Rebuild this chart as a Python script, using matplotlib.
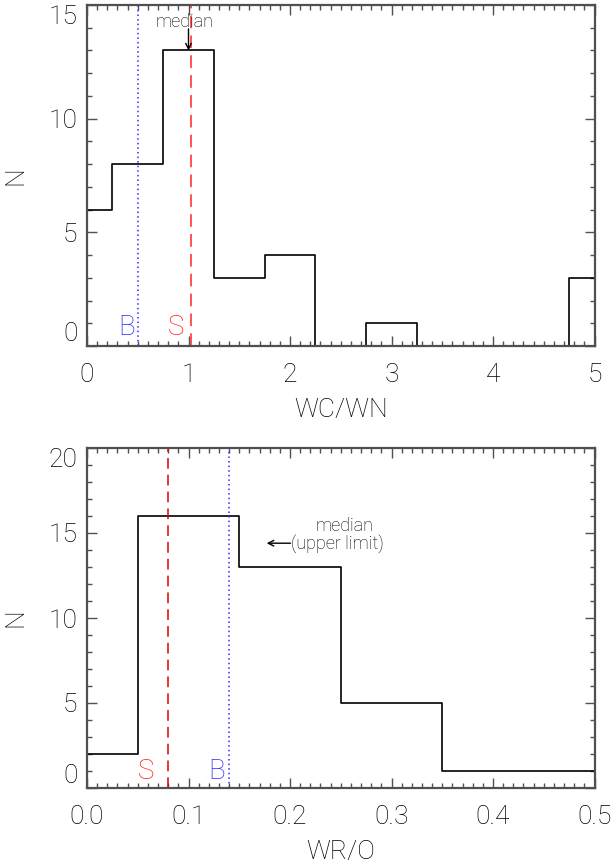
import matplotlib
matplotlib.use("Agg")
import matplotlib.pyplot as plt
from matplotlib.ticker import MultipleLocator, FormatStrFormatter

plt.rcParams['font.family'] = ['Roboto', 'DejaVu Sans']
plt.rcParams['font.weight'] = 'light'
plt.rcParams['axes.labelweight'] = 'light'
plt.rcParams['text.color'] = 'black'

# WC/WN number ratio histogram (bin centres and counts)
wcwn_centers = [0.0, 0.5, 1.0, 1.5, 2.0, 2.5, 3.0, 3.5, 4.0, 4.5, 5.0]
wcwn_counts = [6, 8, 13, 3, 4, 0, 1, 0, 0, 0, 3]
wcwn_median = 1.0
wcwn_S = 1.02
wcwn_B = 0.5

# WR/O number ratio histogram
wro_centers = [0.0, 0.1, 0.2, 0.3, 0.4, 0.5]
wro_counts = [2, 16, 13, 5, 1, 1]
wro_median = 0.177
wro_S = 0.08
wro_B = 0.14

W, H = 615, 866
fig = plt.figure(figsize=(W / 100, H / 100), dpi=100)

spine_col = '#505050'
tick_fs = 19
label_fs = 19
note_fs = 13
mark_fs = 20


def style_axes(ax, xmaj, xmin, yticks, ymin, xfmt=None):
    ax.xaxis.set_major_locator(MultipleLocator(xmaj))
    ax.xaxis.set_minor_locator(MultipleLocator(xmin))
    if xfmt:
        ax.xaxis.set_major_formatter(FormatStrFormatter(xfmt))
    ax.set_yticks(yticks)
    ax.yaxis.set_minor_locator(MultipleLocator(ymin))
    ax.tick_params(which='both', direction='in', top=True, right=True,
                   color=spine_col, width=1.0)
    ax.tick_params(which='major', length=7)
    ax.tick_params(which='minor', length=3.5)
    ax.tick_params(axis='x', which='major', pad=12, labelsize=tick_fs,
                   labelcolor='black')
    ax.tick_params(axis='y', which='major', pad=7, labelsize=tick_fs,
                   labelcolor='black')
    labs = ax.get_yticklabels()
    labs[0].set_va('bottom')
    labs[-1].set_va('top')
    for s in ax.spines.values():
        s.set_color(spine_col)
        s.set_linewidth(1.6)


# ---- top panel: WC/WN ----
ax1 = fig.add_axes([87 / W, 1 - 346 / H, 507.5 / W, 341 / H])
ax1.step(wcwn_centers, wcwn_counts, where='mid', color='black', lw=1.2)
ax1.axvline(wcwn_B, color='#2a2aff', ls=(0, (1, 2)), lw=1.1)
ax1.axvline(wcwn_S, color='#ff4545', ls=(0, (7, 4)), lw=1.3)
ax1.set_xlim(0, 5)
ax1.set_ylim(0, 15)
style_axes(ax1, 1, 0.1, [0, 5, 10, 15], 1)
ax1.set_xlabel('WC/WN', fontsize=label_fs, labelpad=8)
ax1.set_ylabel('N', fontsize=label_fs, labelpad=15)
ax1.text(0.39, 0.2, 'B', color='#2a2aff', fontsize=mark_fs, ha='center', va='bottom')
ax1.text(0.88, 0.2, 'S', color='#ff2020', fontsize=mark_fs, ha='center', va='bottom')
ax1.annotate('', xy=(wcwn_median, wcwn_counts[2]), xytext=(wcwn_median, 13.95),
             arrowprops=dict(arrowstyle='->', color='black', lw=1.0,
                             shrinkA=0, shrinkB=0))
ax1.text(0.96, 14.05, 'median', fontsize=note_fs, ha='center', va='baseline')

# ---- bottom panel: WR/O ----
ax2 = fig.add_axes([87 / W, 1 - 788 / H, 507.5 / W, 340 / H])
ax2.step(wro_centers, wro_counts, where='mid', color='black', lw=1.2)
ax2.axvline(wro_B, color='#2a2aff', ls=(0, (1, 2)), lw=1.1)
ax2.axvline(wro_S, color='#e00000', ls=(0, (7, 4)), lw=1.1)
ax2.set_xlim(0, 0.5)
ax2.set_ylim(0, 20)
style_axes(ax2, 0.1, 0.01, [0, 5, 10, 15, 20], 1, xfmt='%.1f')
ax2.set_xlabel('WR/O', fontsize=label_fs, labelpad=8)
ax2.set_ylabel('N', fontsize=label_fs, labelpad=15)
ax2.text(0.058, 0.2, 'S', color='#ff2020', fontsize=mark_fs, ha='center', va='bottom')
ax2.text(0.128, 0.2, 'B', color='#2a2aff', fontsize=mark_fs, ha='center', va='bottom')
ax2.annotate('', xy=(wro_median, 14.4), xytext=(0.2005, 14.4),
             arrowprops=dict(arrowstyle='->', color='black', lw=1.0,
                             shrinkA=0, shrinkB=0))
ax2.text(0.2005, 14.4, '(upper limit)', fontsize=note_fs, ha='left', va='center')
ax2.text(0.254, 15.4, 'median', fontsize=note_fs, ha='center', va='center')

fig.savefig('out.png', dpi=100)
